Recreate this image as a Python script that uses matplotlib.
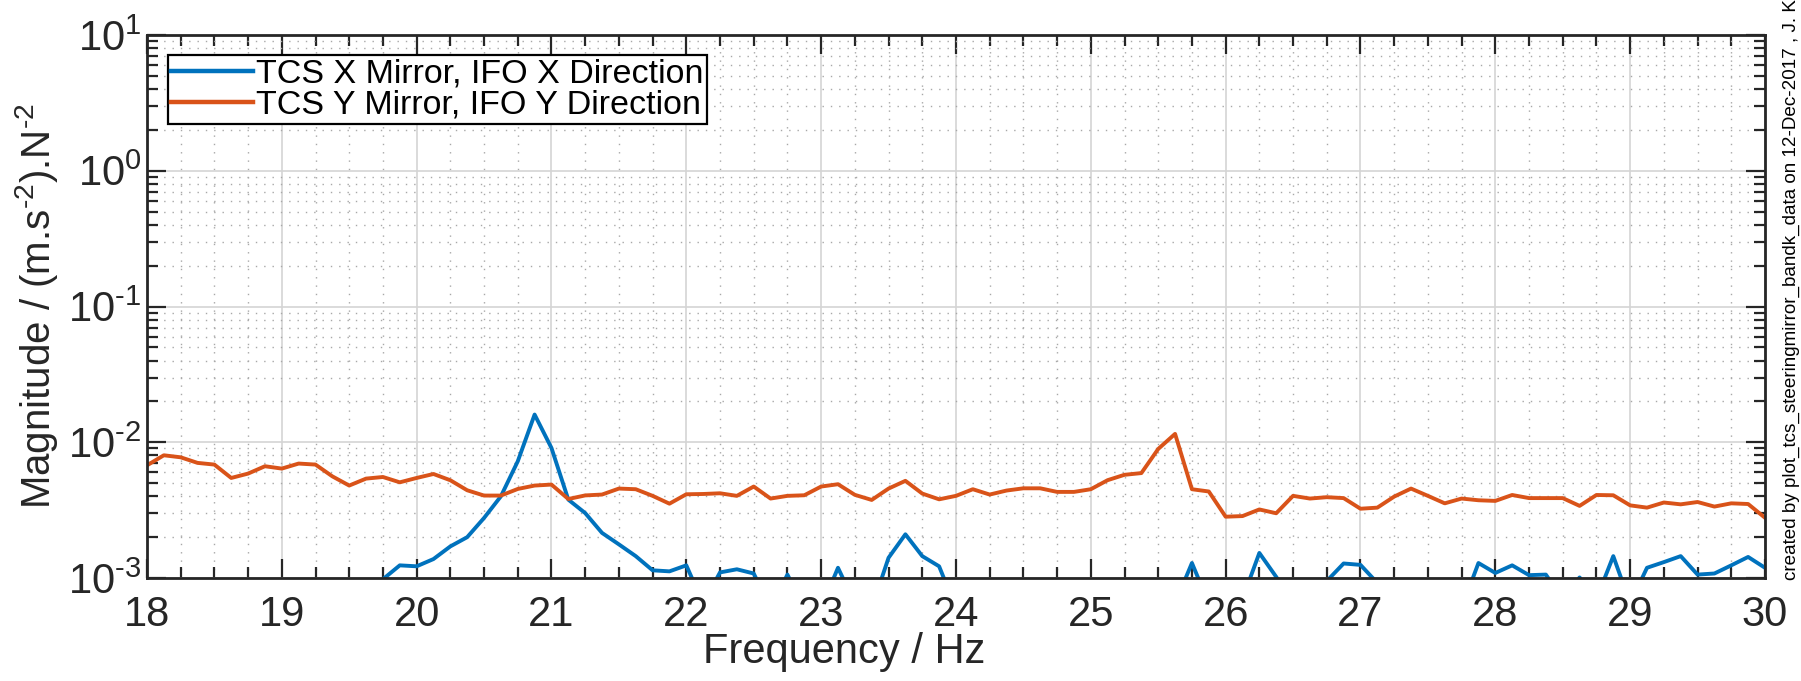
'''
Steering mirror transfer function magnitude, B&K hammer data
'''

# Imports
import numpy as np
import matplotlib
matplotlib.use('Agg')
import matplotlib.pyplot as plt
from matplotlib.ticker import LogLocator, MultipleLocator, NullFormatter, FuncFormatter

# Data (0.125 Hz bins from 18 to 30 Hz)
freq_start = 18.0
freq_step = 0.125

# TCS Y mirror, IFO Y direction
mag_y = [0.00676, 0.00802, 0.00775, 0.00705, 0.00685, 0.00546, 0.00588, 0.00666,
         0.00640, 0.00697, 0.00685, 0.00561, 0.00480, 0.00540, 0.00555, 0.00507,
         0.00546, 0.00584, 0.00525, 0.00443, 0.00405, 0.00405, 0.00453, 0.00480,
         0.00488, 0.00382, 0.00406, 0.00412, 0.00456, 0.00451, 0.00403, 0.00353,
         0.00414, 0.00416, 0.00421, 0.00403, 0.00472, 0.00385, 0.00403, 0.00407,
         0.00472, 0.00491, 0.00410, 0.00376, 0.00456, 0.00520, 0.00419, 0.00380,
         0.00403, 0.00451, 0.00412, 0.00441, 0.00458, 0.00458, 0.00431, 0.00431,
         0.00451, 0.00526, 0.00576, 0.00593, 0.00893, 0.01153, 0.00451, 0.00434,
         0.00283, 0.00286, 0.00320, 0.00300, 0.00403, 0.00385, 0.00394, 0.00388,
         0.00324, 0.00330, 0.00398, 0.00456, 0.00403, 0.00355, 0.00385, 0.00374,
         0.00370, 0.00409, 0.00388, 0.00388, 0.00388, 0.00340, 0.00409, 0.00407,
         0.00343, 0.00330, 0.00360, 0.00349, 0.00363, 0.00336, 0.00355, 0.00351,
         0.00278]

# TCS X mirror, IFO X direction (values under 1e-3 run off the bottom of the axes)
mag_x = [0.00050, 0.00050, 0.00050, 0.00050, 0.00050, 0.00050, 0.00050, 0.00050,
         0.00050, 0.00050, 0.00050, 0.00050, 0.00050, 0.00050, 0.00098, 0.00124,
         0.00122, 0.00138, 0.00171, 0.00200, 0.00277, 0.00400, 0.00724, 0.01600,
         0.00908, 0.00378, 0.00301, 0.00215, 0.00177, 0.00145, 0.00114, 0.00112,
         0.00124, 0.00065, 0.00110, 0.00116, 0.00108, 0.00060, 0.00106, 0.00060,
         0.00060, 0.00119, 0.00065, 0.00060, 0.00141, 0.00210, 0.00145, 0.00122,
         0.00060, 0.00050, 0.00050, 0.00050, 0.00050, 0.00050, 0.00050, 0.00050,
         0.00050, 0.00050, 0.00050, 0.00050, 0.00050, 0.00065, 0.00129, 0.00065,
         0.00050, 0.00070, 0.00153, 0.00102, 0.00065, 0.00060, 0.00095, 0.00128,
         0.00125, 0.00092, 0.00050, 0.00050, 0.00050, 0.00050, 0.00060, 0.00129,
         0.00109, 0.00124, 0.00105, 0.00106, 0.00070, 0.00101, 0.00070, 0.00145,
         0.00065, 0.00119, 0.00131, 0.00145, 0.00106, 0.00108, 0.00124, 0.00143,
         0.00119]

labels = ['TCS X Mirror, IFO X Direction', 'TCS Y Mirror, IFO Y Direction']
colors = ['#0072BD', '#D95319']
stamp = 'created by plot_tcs_steeringmirror_bandk_data on 12-Dec-2017 , J. Kissel'

freq = freq_start + freq_step * np.arange(len(mag_y))

# Plot
plt.rcParams['font.family'] = ['Liberation Sans', 'DejaVu Sans']
plt.rcParams['mathtext.fontset'] = 'custom'
plt.rcParams['mathtext.rm'] = 'Liberation Sans'
plt.rcParams['mathtext.it'] = 'Liberation Sans'
txtcol = '#262626'

fig = plt.figure(figsize=(18.01, 6.81), dpi=100)
ax = fig.add_axes([0.0816, 0.1512, 0.8984, 0.7974])

ax.semilogy(freq, mag_x, color=colors[0], lw=2.8, label=labels[0])
ax.semilogy(freq, mag_y, color=colors[1], lw=2.8, label=labels[1])

ax.set_xlim(18, 30)
ax.set_ylim(1e-3, 1e1)
ax.xaxis.set_major_locator(MultipleLocator(1))
ax.xaxis.set_minor_locator(MultipleLocator(0.25))
ax.yaxis.set_major_locator(LogLocator(base=10, numticks=10))
ax.yaxis.set_minor_locator(LogLocator(base=10, subs=np.arange(2, 10), numticks=20))
ax.yaxis.set_minor_formatter(NullFormatter())
# matlab style exponents, plain hyphen for the minus
ax.yaxis.set_major_formatter(FuncFormatter(
    lambda v, p: r'$10^{\text{%d}}$' % int(round(np.log10(v)))))

ax.grid(which='major', color='#d4d4d4', lw=1.2, ls='-')
ax.grid(which='minor', color='#a8a8a8', lw=1.0, ls=(0, (1, 5)))
ax.set_axisbelow(True)

ax.tick_params(which='both', direction='in', top=True, right=True, width=1.6,
               color=txtcol, labelsize=30, labelcolor=txtcol)
ax.tick_params(axis='x', pad=12)
ax.tick_params(axis='y', pad=4)
ax.tick_params(which='major', length=14)
ax.tick_params(which='minor', length=8)
for sp in ax.spines.values():
    sp.set_linewidth(2.0)
    sp.set_color(txtcol)

ax.set_xlabel('Frequency / Hz', fontsize=30, color=txtcol)
ax.xaxis.set_label_coords(0.431, -0.1)
ax.set_ylabel(r'Magnitude / (m.s$^{\text{-2}}$).N$^{\text{-2}}$', fontsize=29, color=txtcol, labelpad=6)

leg = ax.legend(loc='upper left', bbox_to_anchor=(0.013, 0.963), fontsize=24.5,
                fancybox=False, framealpha=1, edgecolor='black', handlelength=2.4,
                borderpad=0.1, labelspacing=0.0, handletextpad=0.1, borderaxespad=0.0)
leg.get_frame().set_linewidth(1.6)
for ln in leg.get_lines():
    ln.set_linewidth(3.2)

fig.text(0.9945, 0.148, stamp, rotation=90, fontsize=13.6, ha='center', va='bottom')

fig.savefig('out.png', dpi=100)
